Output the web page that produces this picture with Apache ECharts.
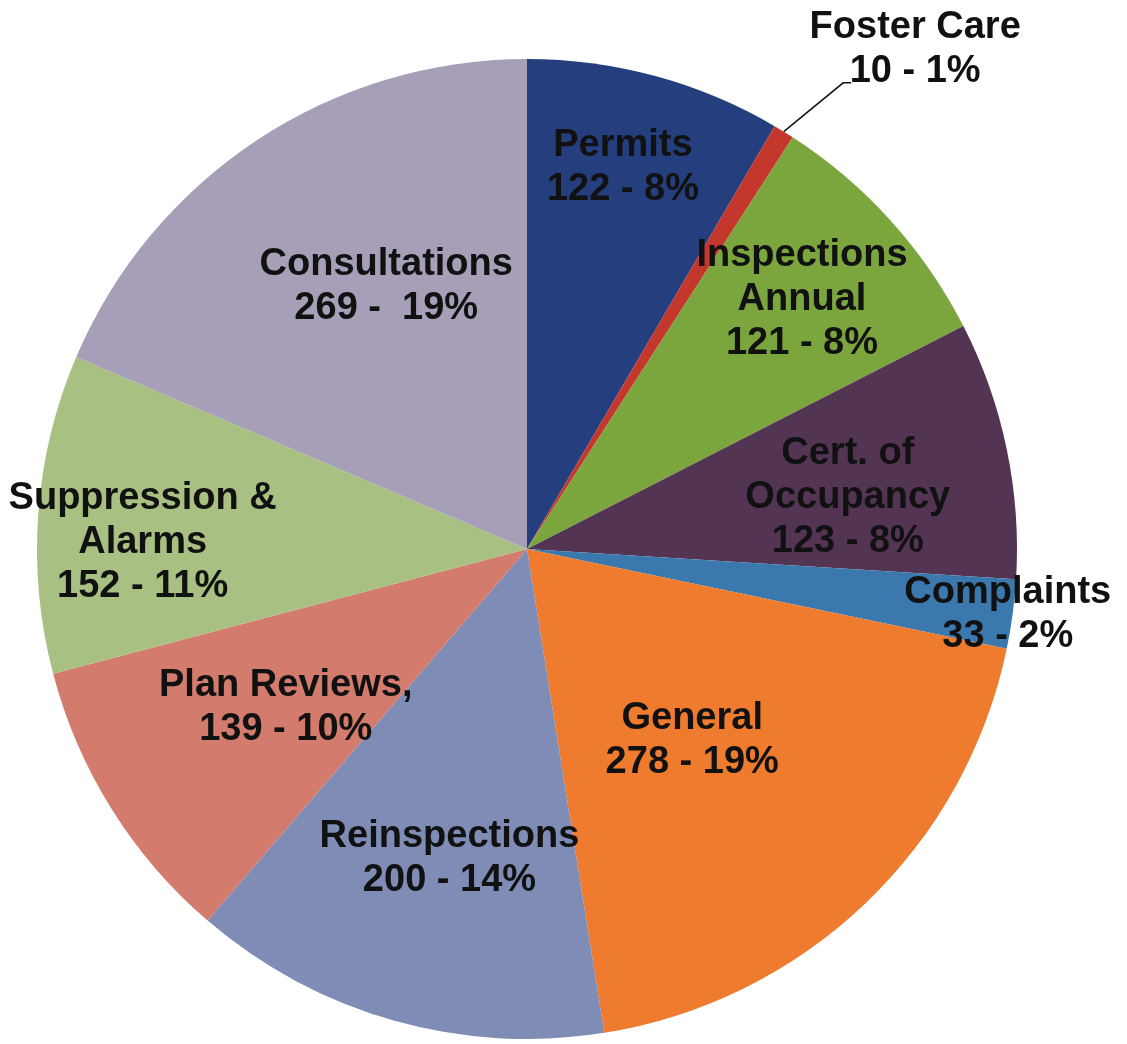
<!DOCTYPE html>
<html>
<head>
<meta charset="utf-8">
<script src="https://cdn.jsdelivr.net/npm/echarts@6/dist/echarts.min.js"></script>
<style>
  html, body { margin: 0; padding: 0; background: #fff; }
  #main { width: 1127px; height: 1044px; }
</style>
</head>
<body>
<div id="main"></div>
<script>
// slices, clockwise from 12 o'clock
const names = ['Permits', 'Foster Care', 'Inspections\nAnnual', 'Cert. of\nOccupancy', 'Complaints',
  'General', 'Reinspections', 'Plan Reviews,', 'Suppression &\nAlarms', 'Consultations']
const values = [122, 10, 121, 123, 33, 278, 200, 139, 152, 269]
const pcts = [8, 1, 8, 8, 2, 19, 14, 10, 11, 19]
const colors = ['#243e7e', '#c3372c', '#7ba63d', '#533453', '#3a78ad',
  '#ee7b2e', '#7e8cb6', '#d37b6c', '#a8c081', '#a79eb7']

// label nudges from the default label centre
const labelShift = [[31, -142], [5, -69], [91, -83], [78, -1], [235, 33],
  [-6, 12], [-10, 71], [-31, 27], [-137, 12], [-4, -56]]

const chart = echarts.init(document.getElementById('main'))

const data = values.map((v, i) => {
  const item = {
    name: names[i],
    value: v,
    itemStyle: {color: colors[i]}
  }
  if (i === 1) {
    item.label = {position: 'outside'}
    item.labelLine = {show: true, length: 15, length2: 8, lineStyle: {color: '#111', width: 1.5}}
  }
  return item
})

chart.setOption({
  animation: false,
  series: [
    {
      type: 'pie',
      center: [527, 549],
      radius: 490,
      startAngle: 90,
      clockwise: true,
      avoidLabelOverlap: false,
      emphasis: {disabled: true},
      label: {
        show: true,
        position: 'inside',
        color: '#111',
        fontFamily: '"Liberation Sans", Arial, Helvetica, sans-serif',
        fontWeight: 'bold',
        fontSize: 38,
        lineHeight: 44,
        align: 'center',
        formatter: p => p.name + '\n' + p.value + (p.dataIndex === 9 ? ' -  ' : ' - ') + pcts[p.dataIndex] + '%'
      },
      labelLine: {show: false},
      labelLayout: p => {
        const r = p.labelRect
        const s = labelShift[p.dataIndex]
        const cx = r.x + r.width / 2 + s[0]
        const cy = r.y + r.height / 2 + s[1]
        const out = {x: cx, y: cy, align: 'center', verticalAlign: 'middle'}
        if (p.labelLinePoints) {
          // leader runs up to the lower-left of the label, ends with a short flat tick
          out.labelLinePoints = [p.labelLinePoints[0], [cx - 72, cy + 33], [cx - 64, cy + 33]]
        }
        return out
      },
      data: data
    }
  ]
})
</script>
</body>
</html>
